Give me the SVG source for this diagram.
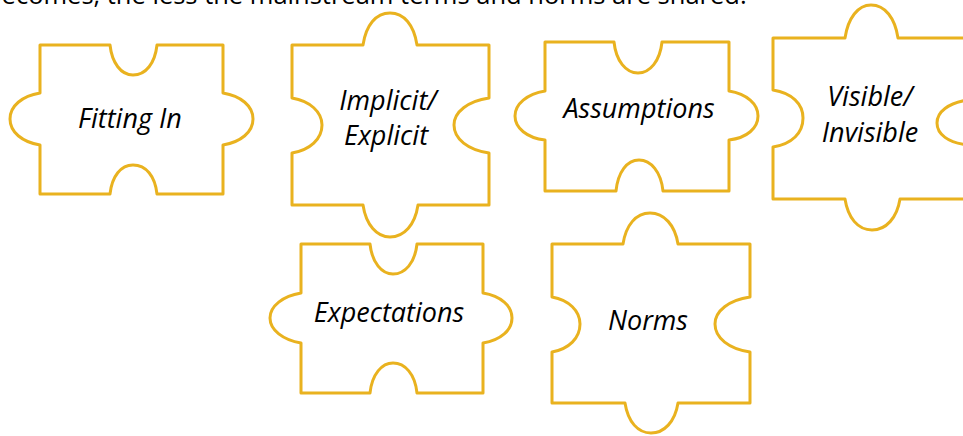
<svg xmlns="http://www.w3.org/2000/svg" width="963" height="436" viewBox="0 0 963 436">
<style>
.piece{fill:#FFFFFF;stroke:#E9B21F;stroke-width:3;stroke-linejoin:round}
.lbl{font-family:"Open Sans",Lato,sans-serif;font-style:italic;font-size:27px;fill:#000;text-anchor:middle}
.top{font-family:"Open Sans",Lato,sans-serif;font-size:25.5px;fill:#000}
</style>
<rect width="963" height="436" fill="#FFFFFF"/>
<text class="top" x="-14" y="4">becomes, the less the mainstream terms and norms are shared.</text>

<g id="fitting-in">
<path class="piece" d="M40,45 L110,45 C112,63 121,75 133,75 C146,75 155,63 157,45 L223,45 L223,93 C241,96 253,106 253,119 C253,132 241,142 223,145 L223,194 L157,194 C155,176 146,165 133,165 C121,165 112,176 110,194 L40,194 L40,145 C22,142 10,132 10,119 C10,106 22,96 40,93 Z"/>
<text class="lbl" x="130" y="128">Fitting In</text>
</g>

<g id="implicit-explicit">
<path class="piece" d="M292,45 L363,45 C366,25 376,13 390,13 C404,13 414,25 417,45 L489,45 L489,98 C468,101 454,112 454,125 C454,139 468,150 489,153 L489,205 L418,205 C415,225 404,237 390,237 C377,237 366,225 363,205 L292,205 L292,153 C310,150 322,139 322,125 C322,112 310,101 292,98 Z"/>
<text class="lbl" x="388" y="110">Implicit/</text>
<text class="lbl" x="386" y="145">Explicit</text>
</g>

<g id="assumptions">
<path class="piece" d="M545,42 L614,42 C616,61 626,73 638,73 C650,73 660,61 662,42 L729,42 L729,91 C747,94 758,104 758,116 C758,128 747,138 729,140 L729,191 L663,191 C661,172 651,160 639,160 C627,160 618,172 616,191 L545,191 L545,140 C527,138 515,128 515,116 C515,104 527,94 545,91 Z"/>
<text class="lbl" x="639" y="118">Assumptions</text>
</g>

<g id="visible-invisible">
<path class="piece" d="M773,38 L845,38 C848,18 858,5 871,5 C885,5 895,18 898,38 L968,38 L968,100 C948,103 937,112 937,123 C937,134 948,143 968,145 L968,199 L900,199 C897,218 886,230 872,230 C858,230 848,218 845,199 L773,199 L773,147 C792,144 803,133 803,118 C803,104 792,93 773,90 Z"/>
<text class="lbl" x="870" y="106">Visible/</text>
<text class="lbl" x="870" y="142">Invisible</text>
</g>

<g id="expectations">
<path class="piece" d="M301,244 L370,244 C372,263 382,274 393,274 C405,274 415,263 417,244 L483,244 L483,293 C501,296 512,306 512,318 C512,330 501,340 483,343 L483,393 L417,393 C415,374 405,363 393,363 C382,363 372,374 370,393 L301,393 L301,343 C283,340 270,330 270,318 C270,306 283,296 301,293 Z"/>
<text class="lbl" x="389" y="322">Expectations</text>
</g>

<g id="norms">
<path class="piece" d="M552,244 L623,244 C626,225 636,213 650,213 C664,213 675,225 678,244 L750,244 L750,297 C729,300 715,311 715,324 C715,338 729,349 750,352 L750,403 L678,403 C675,422 664,433 651,433 C638,433 628,422 625,403 L552,403 L552,352 C569,349 580,338 580,324 C580,311 569,300 552,297 Z"/>
<text class="lbl" x="648" y="330">Norms</text>
</g>
</svg>
